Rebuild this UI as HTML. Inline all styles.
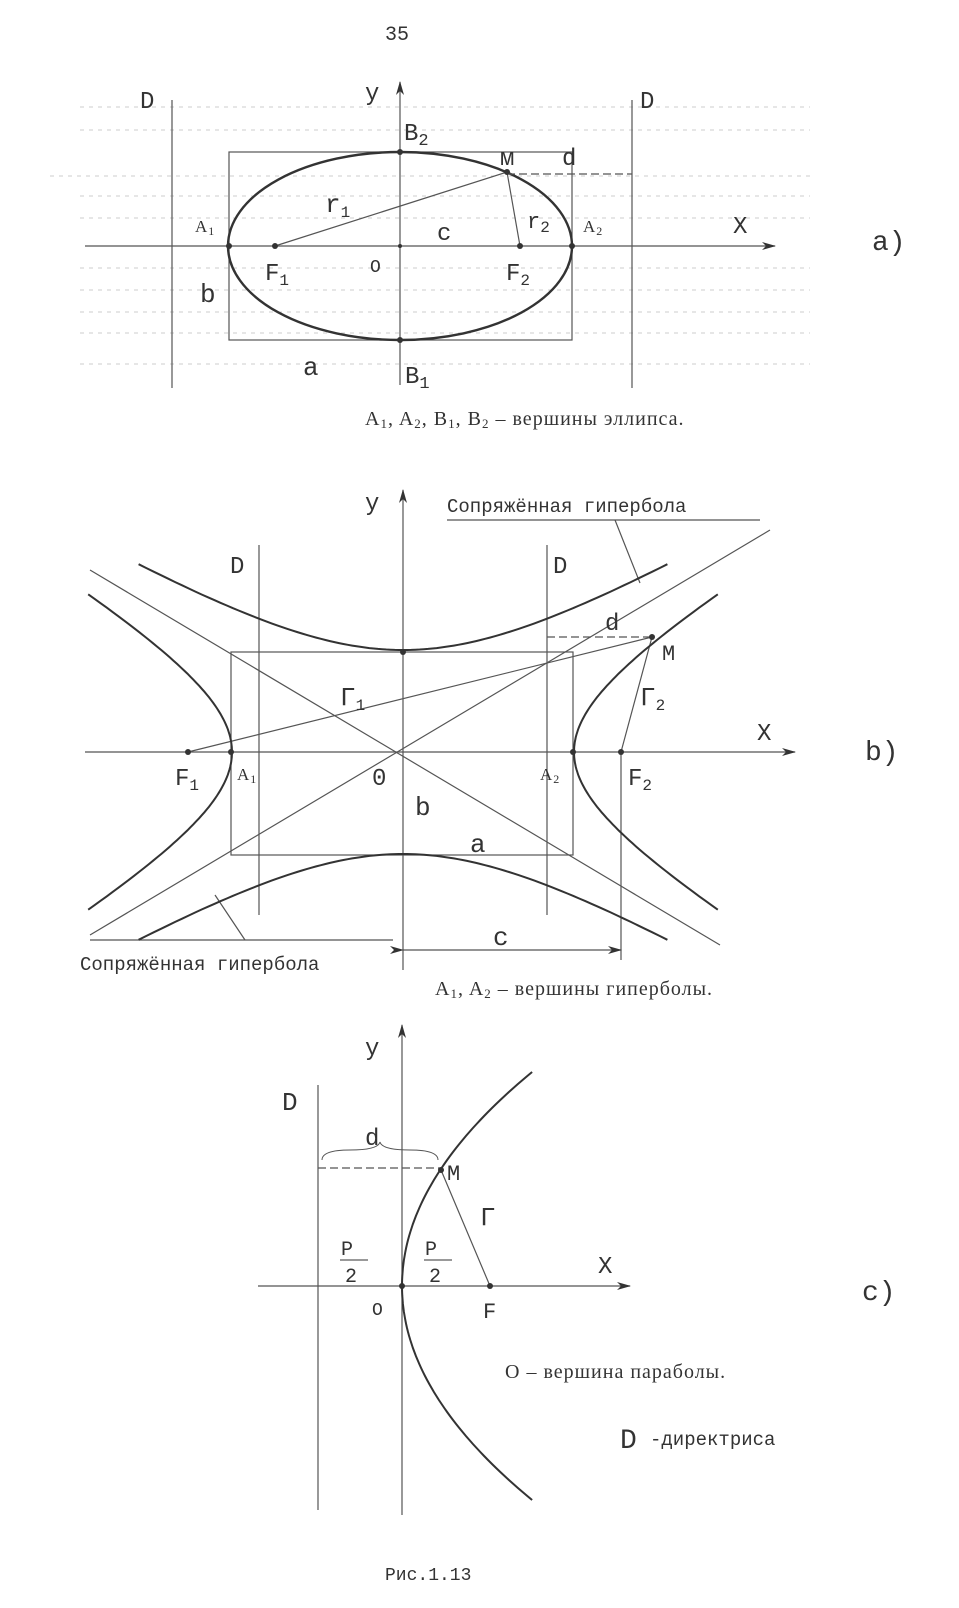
<!DOCTYPE html>
<html><head><meta charset="utf-8"><style>
html,body{margin:0;padding:0;background:#fff}
svg{display:block}
text{font-family:"Liberation Mono","DejaVu Sans Mono",monospace;fill:#333}
.s{font-family:"Liberation Serif",serif;letter-spacing:1px}
</style></head><body>
<svg width="959" height="1608" viewBox="0 0 959 1608" xmlns="http://www.w3.org/2000/svg">
<defs><marker id="ar" markerWidth="14" markerHeight="8" refX="13" refY="4" orient="auto" markerUnits="userSpaceOnUse"><path d="M0,0 L14,4 L0,8 L4,4z" fill="#333"/></marker></defs>
<g stroke="#555" fill="none" stroke-width="1.2">
<g stroke="#ccc" stroke-dasharray="4,5" stroke-width="1">
<path d="M80,107H810M80,130H810M50,176H810M80,196H810M80,218H810M80,268H810M80,290H810M80,312H810M80,333H810M80,364H810"/>
</g>
<path d="M85,246H775" marker-end="url(#ar)"/>
<path d="M400,385V82" marker-end="url(#ar)"/>
<path d="M172,100V388M632,100V388"/>
<rect x="229" y="152" width="343" height="188"/>
<ellipse cx="400" cy="246" rx="172" ry="94" stroke="#333" stroke-width="2.4"/>
<path d="M275,246L507,172L520,246"/>
<path d="M507,174H632" stroke-dasharray="8,4"/>
<path d="M85,752H795" marker-end="url(#ar)"/>
<path d="M403,970V490" marker-end="url(#ar)"/>
<path d="M259,545V915M547,545V915"/>
<rect x="231" y="652" width="342" height="203"/>
<path d="M90,570L720,945M90,935L770,530"/>
<path d="M188,752L652,637L621,752"/>
<path d="M547,637H652" stroke-dasharray="8,4"/>
<path d="M621,752V960"/>
<path d="M403,950H621" marker-start="url(#ar)" marker-end="url(#ar)"/>
<path d="M447,520H760M90,940H393"/>
<path d="M615,520L640,583M215,895L245,940"/>
<path d="M258,1286H630" marker-end="url(#ar)"/>
<path d="M402,1515V1025" marker-end="url(#ar)"/>
<path d="M318,1085V1510"/>
<path d="M441,1170L490,1286"/>
<path d="M318,1168H441" stroke-dasharray="8,4"/>
<path d="M322,1160Q322,1150 350,1150Q378,1150 380,1142Q382,1150 410,1150Q438,1150 438,1160" stroke-width="1"/>
</g>
<g fill="none" stroke="#333" stroke-width="2" id="curves"></g>
<g fill="#333">
<circle cx="229" cy="246" r="3"/><circle cx="572" cy="246" r="3"/><circle cx="400" cy="152" r="3"/><circle cx="400" cy="340" r="3"/>
<circle cx="275" cy="246" r="3"/><circle cx="520" cy="246" r="3"/><circle cx="507" cy="172" r="3"/><circle cx="400" cy="246" r="2"/>
<circle cx="188" cy="752" r="3"/><circle cx="231" cy="752" r="3"/><circle cx="573" cy="752" r="3"/><circle cx="621" cy="752" r="3"/><circle cx="652" cy="637" r="3"/><circle cx="403" cy="652" r="3"/>
<circle cx="441" cy="1170" r="3"/><circle cx="490" cy="1286" r="3"/><circle cx="402" cy="1286" r="3"/>
</g>
<text x="385" y="40" font-size="20">35</text>
<text x="140" y="108" font-size="24">D</text><text x="640" y="108" font-size="24">D</text>
<text x="365" y="100" font-size="24">y</text>
<text x="404" y="140" font-size="24">B<tspan font-size="17" dy="5">2</tspan></text>
<text x="500" y="165" font-size="24">м</text><text x="562" y="165" font-size="24">d</text>
<text x="325" y="212" font-size="26">r<tspan font-size="16" dy="5">1</tspan></text>
<text x="527" y="228" font-size="22">r<tspan font-size="16" dy="4">2</tspan></text>
<text x="437" y="240" font-size="24">c</text>
<text x="195" y="232" font-size="17" class="s">A<tspan font-size="12" dy="3">1</tspan></text>
<text x="583" y="232" font-size="17" class="s">A<tspan font-size="12" dy="3">2</tspan></text>
<text x="733" y="233" font-size="24">X</text>
<text x="265" y="280" font-size="24">F<tspan font-size="16" dy="5">1</tspan></text>
<text x="370" y="272" font-size="18">O</text>
<text x="506" y="280" font-size="24">F<tspan font-size="16" dy="5">2</tspan></text>
<text x="200" y="302" font-size="26">b</text>
<text x="303" y="375" font-size="26">a</text>
<text x="405" y="383" font-size="24">B<tspan font-size="17" dy="5">1</tspan></text>
<text x="872" y="250" font-size="28">a)</text>
<text x="365" y="425" font-size="20" class="s">A<tspan font-size="13" dy="3">1</tspan><tspan dy="-3">, A</tspan><tspan font-size="13" dy="3">2</tspan><tspan dy="-3">,  B</tspan><tspan font-size="13" dy="3">1</tspan><tspan dy="-3">, B</tspan><tspan font-size="13" dy="3">2</tspan><tspan dy="-3"> – вершины эллипса.</tspan></text>
<text x="365" y="510" font-size="24">y</text>
<text x="447" y="512" font-size="19">Сопряжённая гипербола</text>
<text x="230" y="573" font-size="24">D</text><text x="553" y="573" font-size="24">D</text>
<text x="605" y="630" font-size="24">d</text><text x="662" y="660" font-size="22">M</text>
<text x="340" y="705" font-size="26">Γ<tspan font-size="16" dy="5">1</tspan></text>
<text x="640" y="705" font-size="26">Γ<tspan font-size="16" dy="5">2</tspan></text>
<text x="757" y="740" font-size="24">X</text>
<text x="175" y="785" font-size="24">F<tspan font-size="16" dy="5">1</tspan></text>
<text x="237" y="780" font-size="17" class="s">A<tspan font-size="12" dy="3">1</tspan></text>
<text x="372" y="785" font-size="24">0</text>
<text x="540" y="780" font-size="17" class="s">A<tspan font-size="12" dy="3">2</tspan></text>
<text x="628" y="785" font-size="24">F<tspan font-size="16" dy="5">2</tspan></text>
<text x="415" y="815" font-size="26">b</text><text x="470" y="852" font-size="26">a</text>
<text x="493" y="945" font-size="26">c</text>
<text x="865" y="760" font-size="28">b)</text>
<text x="80" y="970" font-size="19">Сопряжённая гипербола</text>
<text x="435" y="995" font-size="20" class="s">A<tspan font-size="13" dy="3">1</tspan><tspan dy="-3">, A</tspan><tspan font-size="13" dy="3">2</tspan><tspan dy="-3"> – вершины  гиперболы.</tspan></text>
<text x="365" y="1055" font-size="24">y</text>
<text x="282" y="1110" font-size="26">D</text>
<text x="365" y="1145" font-size="24">d</text>
<text x="447" y="1180" font-size="22">M</text>
<text x="480" y="1225" font-size="26">Γ</text>
<text x="341" y="1255" font-size="20">P</text><path d="M340,1260H368" stroke="#333"/><text x="345" y="1282" font-size="20">2</text>
<text x="425" y="1255" font-size="20">P</text><path d="M424,1260H452" stroke="#333"/><text x="429" y="1282" font-size="20">2</text>
<text x="598" y="1273" font-size="24">X</text>
<text x="372" y="1315" font-size="18">O</text><text x="483" y="1318" font-size="22">F</text>
<text x="862" y="1300" font-size="28">c)</text>
<text x="505" y="1378" font-size="20" class="s">O – вершина  параболы.</text>
<text x="620" y="1448" font-size="28">D</text><text x="650" y="1445" font-size="19">-директриса</text>
<text x="385" y="1580" font-size="18">Рис.1.13</text>
</svg>
<script>
(function(){
var g=document.getElementById('curves');
function path(pts){var p=document.createElementNS('http://www.w3.org/2000/svg','path');p.setAttribute('d','M'+pts.map(function(q){return q[0].toFixed(1)+','+q[1].toFixed(1)}).join('L'));g.appendChild(p);}
var cx=403,cy=752,a=171,b=102,i,t,r,l,u,d;
r=[];l=[];
for(i=-50;i<=50;i++){t=i*0.0244;r.push([cx+a*Math.cosh(t),cy+b*Math.sinh(t)]);l.push([cx-a*Math.cosh(t),cy+b*Math.sinh(t)]);}
path(r);path(l);
u=[];d=[];
for(i=-50;i<=50;i++){t=i*0.0244;u.push([cx+a*Math.sinh(t),cy-b*Math.cosh(t)]);d.push([cx+a*Math.sinh(t),cy+b*Math.cosh(t)]);}
path(u);path(d);
var p=[];for(i=-214;i<=214;i+=4){p.push([402+i*i/352,1286+i]);}path(p);
})();
</script>
</body></html>
